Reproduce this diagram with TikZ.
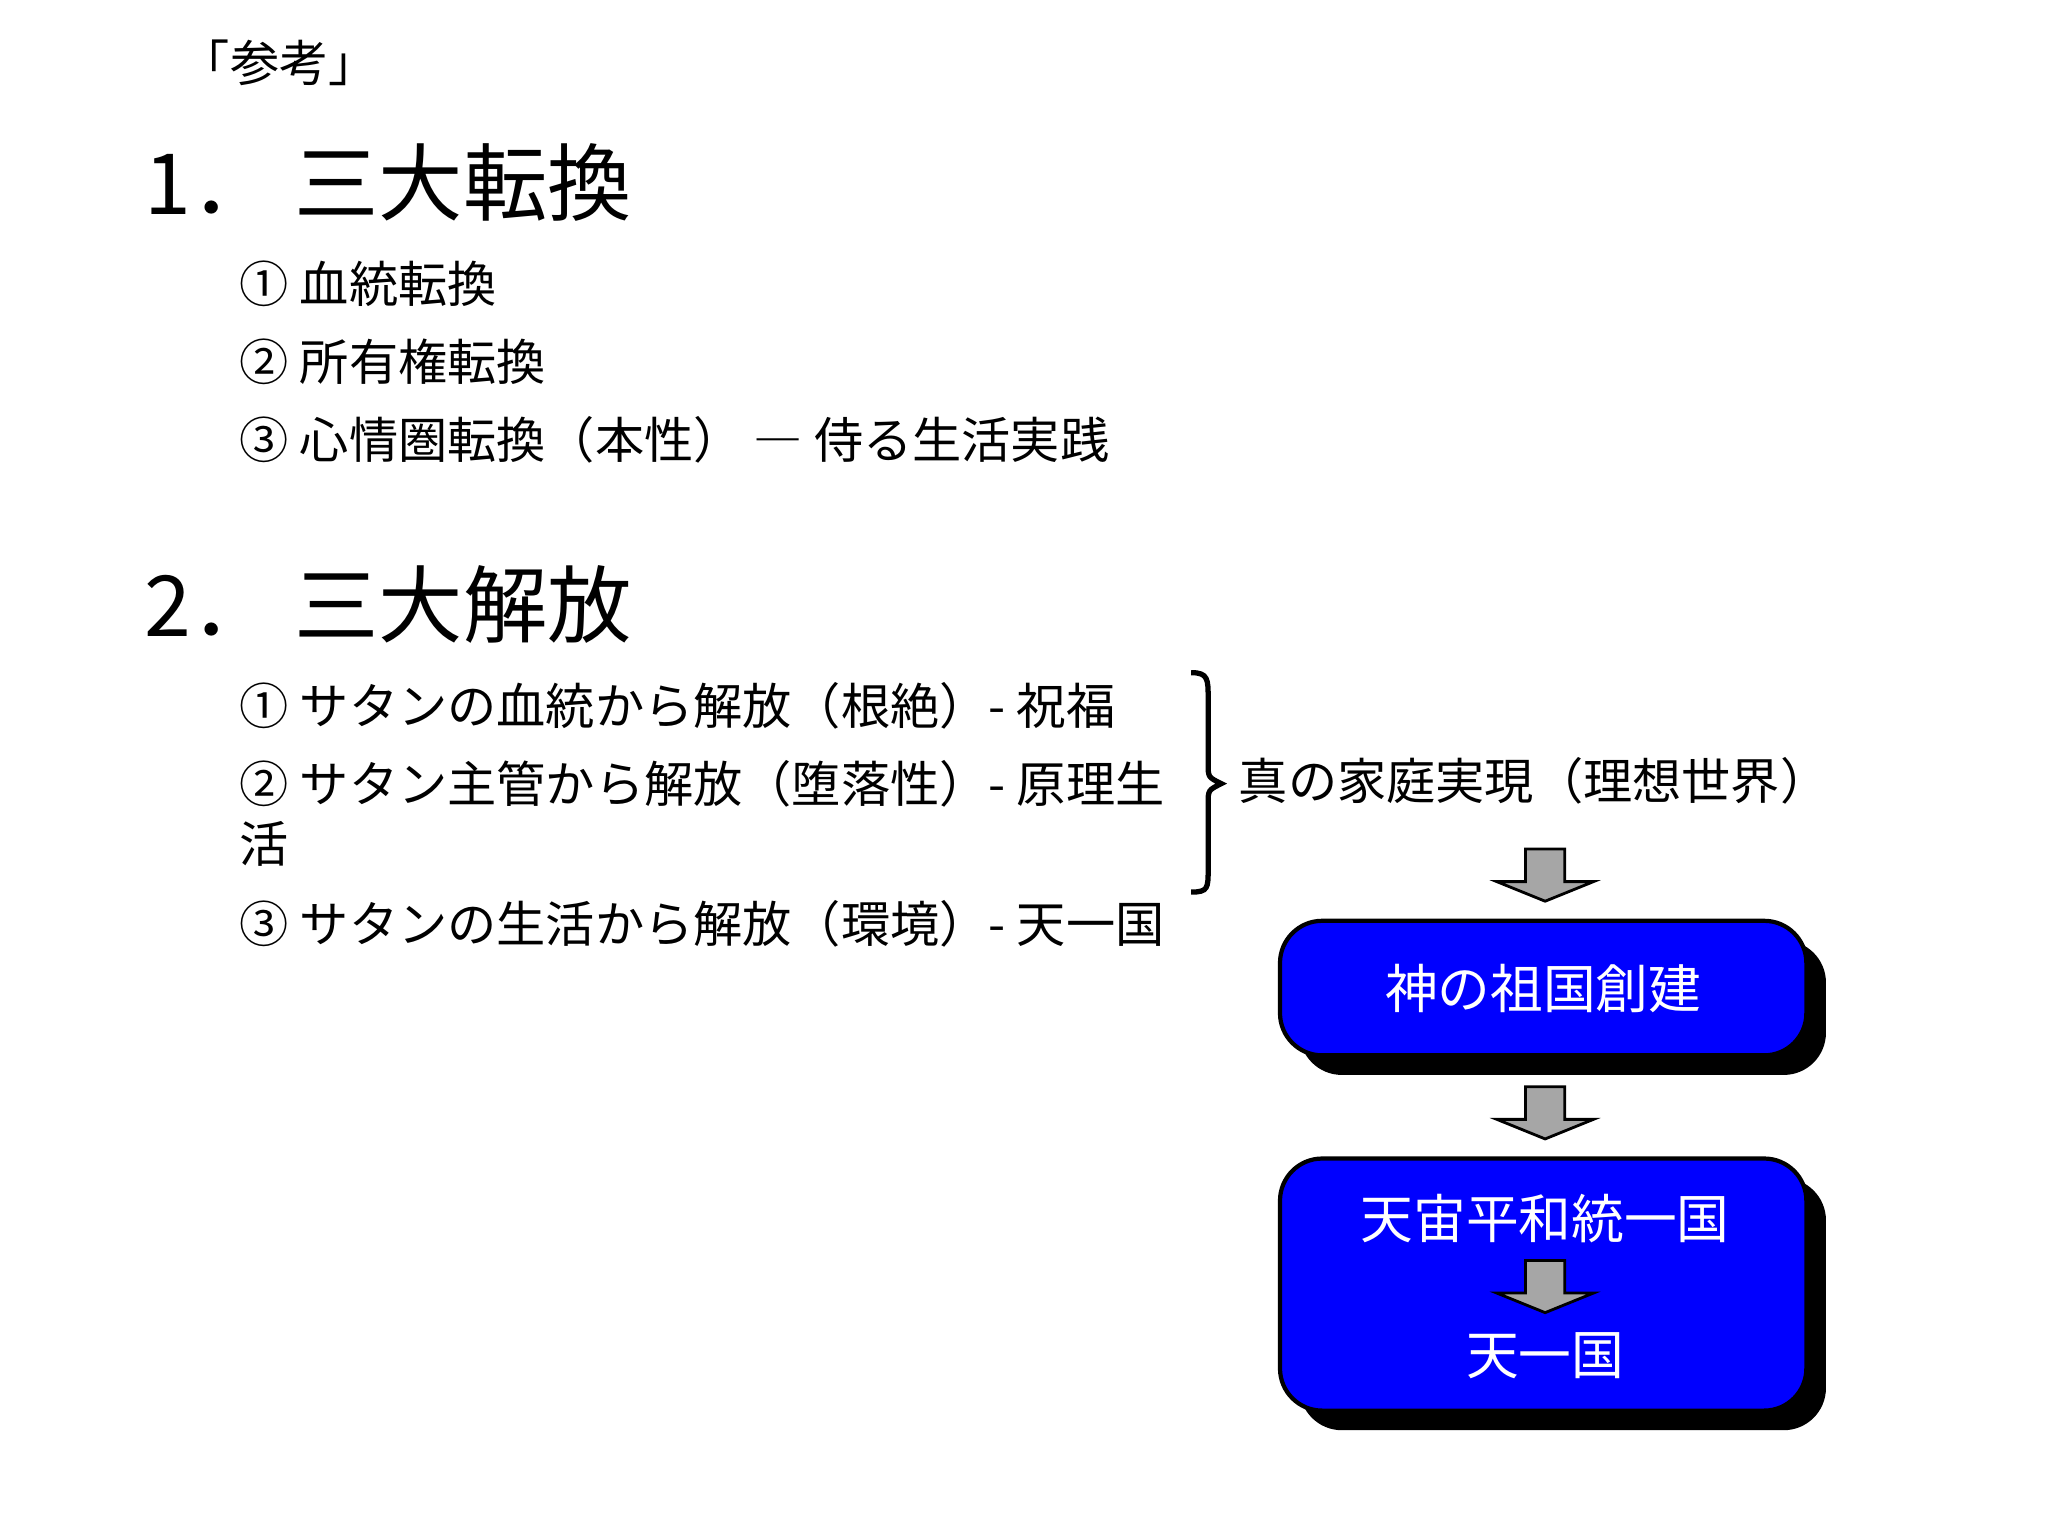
\documentclass[tikz,border=0pt]{standalone}
\usepackage{fontspec}
\setmainfont{Noto Sans CJK JP}
\begin{document}
\begin{tikzpicture}[x=0.01306cm,y=-0.01306cm,
  txt/.style={anchor=west,inner sep=0,font=\fontsize{14pt}{16pt}\selectfont},
  ttl/.style={anchor=west,inner sep=0,font=\fontsize{24pt}{27pt}\selectfont},
  bx/.style={draw=black,line width=1.2pt,fill=blue,rounded corners=12pt,text=white,font=\fontsize{15pt}{18pt}\selectfont},
  sh/.style={fill=black,rounded corners=12pt},
  barr/.style={fill=gray!70,draw=black,line width=0.8pt}]
\useasboundingbox (0,0) rectangle (1568,1176);
\fill[white] (0,0) rectangle (1568,1176);
\node[txt] (ref) at (138,48) {「参考」};
\node[ttl] (t1) at (110,140) {1．\ 三大転換};
\node[txt] (a1) at (183,217) {① 血統転換};
\node[txt] (a2) at (183,277) {② 所有権転換};
\node[txt] (a3) at (183,337) {③ 心情圏転換（本性） ― 侍る生活実践};
\node[ttl] (t2) at (110,463) {2．\ 三大解放};
\node[txt] (b1) at (183,540) {① サタンの血統から解放（根絶）- 祝福};
\node[txt] (b2) at (183,600) {② サタン主管から解放（堕落性）- 原理生};
\node[txt] (b2b) at (183,646) {活};
\node[txt] (b3) at (183,707) {③ サタンの生活から解放（環境）- 天一国};
\draw[line width=1.5pt] (912,515) .. controls (925,515) and (925,520) .. (925,535) -- (925,585) .. controls (925,595) .. (935,600) .. controls (925,605) .. (925,615) -- (925,665) .. controls (925,680) and (925,683) .. (912,683);
\node[txt] (goal) at (948,598) {真の家庭実現（理想世界）};
\foreach \y in {650,832}{
 \draw[barr] (1168,\y) -- (1198,\y) -- (1198,\y+25) -- (1220,\y+25) -- (1183,\y+40) -- (1146,\y+25) -- (1168,\y+25) -- cycle;}
\fill[sh] (995,720) rectangle (1398,823);
\node[bx,minimum width=403*0.01306cm,minimum height=103*0.01306cm] (k1) at (1181.5,756.5) {神の祖国創建};
\fill[sh] (995,902) rectangle (1398,1095);
\node[bx,minimum width=403*0.01306cm,minimum height=193*0.01306cm] (k2) at (1181.5,983.5) {};
\node[text=white,font=\fontsize{15pt}{18pt}\selectfont] (k2a) at (1183,933) {天宙平和統一国};
\node[text=white,font=\fontsize{15pt}{18pt}\selectfont] (k2b) at (1183,1038) {天一国};
\draw[barr] (1168,965) -- (1198,965) -- (1198,990) -- (1220,990) -- (1183,1005) -- (1146,990) -- (1168,990) -- cycle;
\end{tikzpicture}
\end{document}
